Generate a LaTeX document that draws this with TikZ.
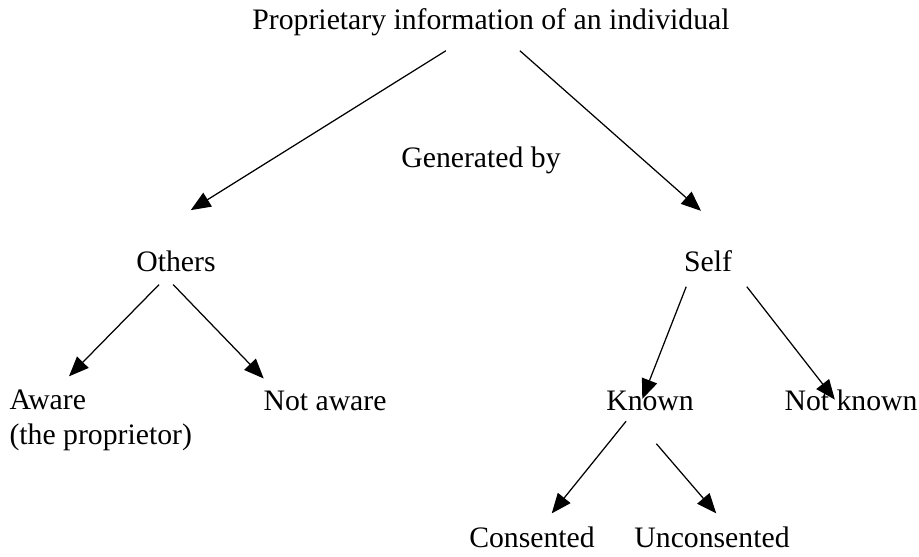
\documentclass[tikz,border=0pt]{standalone}
\usepackage{fontspec}
\setmainfont{Liberation Serif}
\usetikzlibrary{arrows.meta}

\begin{document}
\begin{tikzpicture}[
  every node/.style={inner sep=0pt, text height=1.5ex, text depth=.25ex, font=\fontsize{12}{13.8}\selectfont},
  arr/.style={draw=black, line width=0.5pt, -{Triangle[length=8pt, width=6.5pt]}}
]
\useasboundingbox (0, 0) rectangle (13.04, 7.89);

\node (info) at (6.967, 7.578) {Proprietary information of an individual};
\node (gen) at (6.825, 5.619) {Generated by};

\node (others) at (2.497, 4.14) {Others};
\node (self) at (10.047, 4.14) {Self};

\node (aware) [anchor=north west, align=left, text height=, text depth=] at (0.128, 2.36) {Aware\\(the proprietor)};
\node (notaware) at (4.612, 2.171) {Not aware};
\node (known) at (9.224, 2.171) {Known};
\node (notknown) at (12.076, 2.171) {Not known};

\node (cons) at (7.549, 0.227) {Consented};
\node (uncons) at (10.103, 0.227) {Unconsented};

\draw[arr] ([shift={(-0.64,-0.26)}]info.south) -- ([shift={(0.21,0.62)}]others.north);
\draw[arr] ([shift={(0.41,-0.26)}]info.south) -- ([shift={(-0.10,0.61)}]self.north);

\draw[arr] ([shift={(-0.24,-0.14)}]others.south) -- ([shift={(-0.45,0.19)}]aware.north);
\draw[arr] ([shift={(-0.04,-0.14)}]others.south) -- ([shift={(-0.87,0.20)}]notaware.north);

\draw[arr] ([shift={(-0.31,-0.17)}]self.south) -- ([shift={(-0.11,-0.09)}]known.north);
\draw[arr] ([shift={(0.55,-0.17)}]self.south) -- ([shift={(-0.23,-0.10)}]notknown.north);

\draw[arr] ([shift={(-0.34,-0.11)}]known.south) -- ([shift={(0.28,0.23)}]cons.north);
\draw[arr] ([shift={(0.09,-0.43)}]known.south) -- ([shift={(0.06,0.23)}]uncons.north);
\end{tikzpicture}
\end{document}
